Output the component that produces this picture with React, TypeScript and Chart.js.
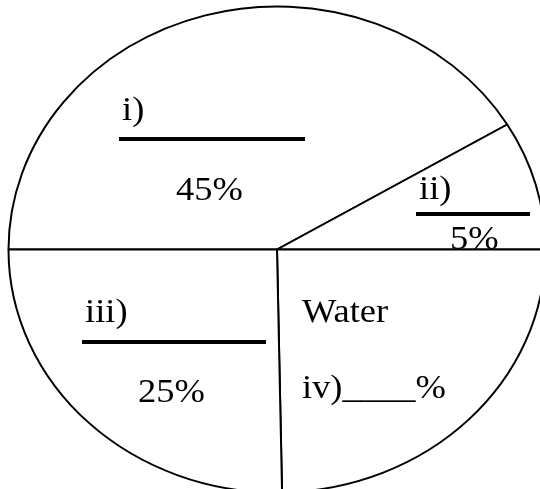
import React, { useEffect, useRef } from "react";
import { Chart, registerables } from "chart.js";

Chart.register(...registerables);

// ---- data ----
// slices, clockwise from the left horizontal radius
const SLICE_NAMES = ["i)", "ii)", "iv)", "iii)"];
// share of the drawn ellipse each slice covers (as drawn, in %)
const SLICE_SHARES = [41.4, 8.6, 24.7, 25.3];
// printed percentage labels
const SLICE_TEXTS = ["45%", "5%", "____%", "25%"];
const WATER_LABEL = "Water";

const W = 540;
const H = 489;
const CANVAS_W = 554;
const CANVAS_H = 499;
const RADIUS = 243;
const X_STRETCH = 268.5 / 243;
const FONT = '33px "Liberation Serif", "Times New Roman", serif';

// annotation layout (text baselines, left aligned) and answer lines
const TEXT_POS: { x: number; y: number }[][] = [
  [ { x: 122, y: 120 }, { x: 176, y: 200 } ], // i) / 45%
  [ { x: 419, y: 199 }, { x: 450, y: 249 } ], // ii) / 5%
  [ { x: 302, y: 398 } ],                     // iv)____%
  [ { x: 85, y: 322 }, { x: 138, y: 402 } ],  // iii) / 25%
];
const WATER_POS = { x: 302, y: 322 };
const ANSWER_LINES = [
  { x: 119, y: 137, w: 186, h: 4 },
  { x: 416, y: 212, w: 114, h: 4 },
  null,
  { x: 82, y: 340, w: 184, h: 4 },
];

function stretchedText(ctx: CanvasRenderingContext2D, t: string, x: number, y: number) {
  ctx.save();
  ctx.translate(x, y);
  ctx.scale(X_STRETCH, 1);
  ctx.fillText(t, 0, 0);
  ctx.restore();
}

const ellipsePlugin = {
  id: "ellipseStretch",
  beforeDatasetsDraw(chart: any) {
    const arc = chart.getDatasetMeta(0).data[0];
    const ctx = chart.ctx;
    ctx.save();
    ctx.translate(arc.x, arc.y);
    ctx.scale(X_STRETCH, 1);
    ctx.translate(-arc.x, -arc.y);
  },
  afterDatasetsDraw(chart: any) {
    const ctx = chart.ctx;
    ctx.restore();
    ctx.save();
    ctx.fillStyle = "#000";
    ctx.font = FONT;
    ctx.textAlign = "left";
    ctx.textBaseline = "alphabetic";
    SLICE_NAMES.forEach((name, i) => {
      const pos = TEXT_POS[i];
      if (pos.length === 2) {
        stretchedText(ctx, name, pos[0].x, pos[0].y);
        stretchedText(ctx, SLICE_TEXTS[i], pos[1].x, pos[1].y);
      } else {
        stretchedText(ctx, name + SLICE_TEXTS[i], pos[0].x, pos[0].y);
      }
      const l = ANSWER_LINES[i];
      if (l) ctx.fillRect(l.x, l.y, l.w, l.h);
    });
    stretchedText(ctx, WATER_LABEL, WATER_POS.x, WATER_POS.y);
    ctx.restore();
  },
};

export default function App() {
  const ref = useRef<HTMLCanvasElement | null>(null);
  useEffect(() => {
    if (!ref.current) return;
    const chart = new Chart(ref.current, {
      type: "pie",
      data: {
        labels: SLICE_NAMES,
        datasets: [
          {
            data: SLICE_SHARES,
            backgroundColor: "#ffffff",
            borderColor: "#000000",
            borderWidth: 1.8,
            radius: RADIUS,
          } as any,
        ],
      },
      options: {
        responsive: false,
        animation: false,
        rotation: 270,
        layout: { padding: 0 },
        plugins: {
          legend: { display: false },
          tooltip: { enabled: false },
        },
      },
      plugins: [ellipsePlugin],
    });
    return () => chart.destroy();
  }, []);
  return (
    <div
      style={{
        position: "absolute",
        left: 0,
        top: 0,
        width: W,
        height: H,
        overflow: "hidden",
        background: "#fff",
      }}
    >
      <canvas
        ref={ref}
        width={CANVAS_W}
        height={CANVAS_H}
        style={{ display: "block", width: CANVAS_W, height: CANVAS_H }}
      />
    </div>
  );
}
